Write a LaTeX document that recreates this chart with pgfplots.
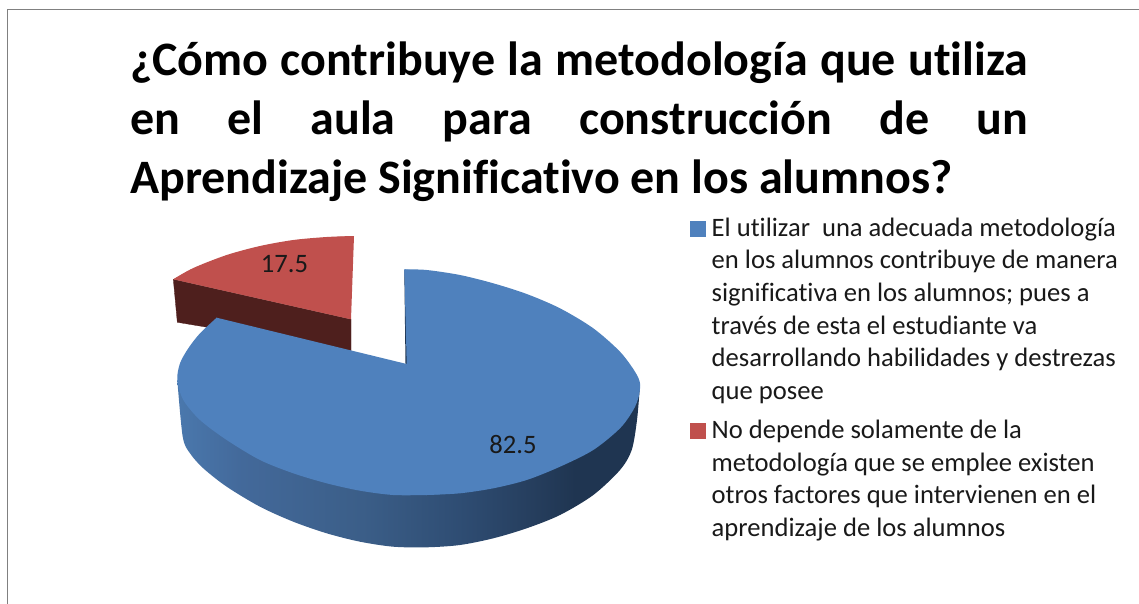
\documentclass[border=0pt]{standalone}
\usepackage{fontspec}
\setmainfont{Carlito}[Ligatures=NoCommon]
\usepackage{pgfplots}
\pgfplotsset{compat=1.18}
\definecolor{pieblue}{HTML}{4F81BD}
\definecolor{piered}{HTML}{C0504D}
\definecolor{darkred}{HTML}{4E1F1D}
\definecolor{darkblue}{HTML}{1F3551}
\definecolor{frame}{HTML}{808080}
\definecolor{bsa}{HTML}{4A7AB0}
\definecolor{bsb}{HTML}{4A78AD}
\definecolor{bsc}{HTML}{43699A}
\definecolor{bsd}{HTML}{3B5E88}
\definecolor{bse}{HTML}{2E4C72}
\definecolor{bsf}{HTML}{253D5C}
\pgfdeclarehorizontalshading{blueside}{100bp}{
 color(0bp)=(bsa);
 color(25bp)=(bsb);
 color(32bp)=(bsc);
 color(45bp)=(bsd);
 color(56bp)=(bse);
 color(64bp)=(bsf);
 color(68bp)=(darkblue);
 color(75bp)=(darkblue);
 color(100bp)=(darkblue)}
\newcommand{\tl}[3]{\node[anchor=base west,inner sep=0pt,font=\fontsize{26.6}{30}\selectfont,text=black!90] at (axis cs:#1,#2) {#3};}
\begin{document}
\begin{tikzpicture}
\useasboundingbox (0,0) rectangle (1139pt,604pt);
\begin{axis}[
  anchor=south west, at={(0,0)},
  scale only axis, width=1139pt, height=604pt,
  xmin=0, xmax=1139, ymin=0, ymax=604, y dir=reverse,
  hide axis, clip=true]
% frame
\addplot[frame, line width=1.9pt, forget plot] coordinates {(7.5,604) (7.5,9.5) (1139,9.5)};
% red slice side and top
\addplot[fill=darkred, draw=darkred, line width=0.3pt, forget plot] coordinates {(173.3,279.3) (351,319.3) (351,351) (177.3,322.3)} --cycle;
\addplot[fill=piered, draw=none, smooth, tension=0.5, forget plot] coordinates {(354,236) (326.7,237) (293.3,240) (260,246) (226.7,255) (193.3,268) (173.3,279.3)};
\addplot[fill=piered, draw=none, forget plot] coordinates {(354,236) (351,319.3) (173.3,279.3) (193.5,268.5) (226.8,255.5) (260,246.5) (293.3,240.5) (326.7,237.5)} --cycle;
% blue side
\addplot[shading=blueside, draw=none, smooth, tension=0.5, forget plot] coordinates {(640,385) (637,420) (631.7,450) (620,470) (593.3,495) (560,515) (526.7,528.3) (493.3,538.3) (460,545) (426.7,547.3) (393.3,546.7) (360,541.7) (326.7,533.3) (293.3,521.7) (260,506.7) (226.7,486.7) (203.3,468.3) (190,453.3) (182.7,436.7) (177.3,380)};
% inner wall
\addplot[fill=darkblue, draw=none, forget plot] coordinates {(404.3,270) (405,270) (407.5,364) (405.5,364)} --cycle;
% blue top
\addplot[fill=pieblue, draw=none, smooth, tension=0.5, forget plot] coordinates {(404.3,269.3) (426.7,270) (460,275) (493.3,283.3) (526.7,294) (560,308.3) (593.3,328.3) (620,351.7) (635,371.7) (640,383.3) (638.7,396.7) (633.3,410) (620,428.3) (593.3,450) (560,466.7) (526.7,480) (493.3,488.3) (460,493.3) (426.7,495)};
\addplot[fill=pieblue, draw=none, smooth, tension=0.5, forget plot] coordinates {(426.7,495) (393.3,495) (360,490.7) (326.7,483.3) (293.3,473.3) (260,460) (226.7,440) (200,420) (183.3,400) (177.3,380) (180,363.3) (188.3,348.3) (200,333.3) (216.7,317.7)};
\addplot[fill=pieblue, draw=none, forget plot] coordinates {(404.3,269.3) (460,276) (560,309.5) (619,352.5) (638,384) (619,428) (560,465.5) (460,492.8) (426.7,495) (393.3,494.7) (293.5,472.8) (227,439.5) (184,399.5) (178.3,380) (189,349) (216.7,317.7) (406.7,364)} --cycle;
% data labels
\addplot[draw=none, mark=none, point meta=explicit symbolic, nodes near coords, nodes near coords align={center},
  every node near coord/.style={font=\fontsize{26.6}{30}\selectfont, text=black!90, inner sep=0pt, anchor=center}, forget plot]
  coordinates {(284.5,264)[17.5] (513,445)[82.5]};
% legend keys
\addplot[only marks, mark=square*, mark size=7.5pt, mark options={fill=pieblue, draw=pieblue, line width=0pt}, forget plot] coordinates {(697.5,228.5)};
\addplot[only marks, mark=square*, mark size=7.5pt, mark options={fill=piered, draw=piered, line width=0pt}, forget plot] coordinates {(697.5,430.5)};
% legend text
\tl{711.5}{236.2}{El utilizar\ \ una adecuada metodología}
\tl{711.5}{268.8}{en los alumnos contribuye de manera}
\tl{711.5}{301.5}{significativa en los alumnos; pues a}
\tl{711.5}{334.2}{través de esta el estudiante va}
\tl{711.5}{366.8}{desarrollando habilidades y destrezas}
\tl{711.5}{399.5}{que posee}
\tl{711.5}{438}{No depende solamente de la}
\tl{711.5}{471}{metodología que se emplee existen}
\tl{711.5}{503.8}{otros factores que intervienen en el}
\tl{711.5}{536.5}{aprendizaje de los alumnos}
% title
\node[anchor=base west,inner sep=0pt,font=\fontsize{48}{54}\selectfont\bfseries] at (axis cs:130,76) {\hbox to 898pt{¿Cómo\hfill contribuye\hfill la\hfill metodología\hfill que\hfill utiliza}};
\node[anchor=base west,inner sep=0pt,font=\fontsize{48}{54}\selectfont\bfseries] at (axis cs:130,134.5) {\hbox to 898pt{en\hfill el\hfill aula\hfill para\hfill construcción\hfill de\hfill un}};
\node[anchor=base west,inner sep=0pt,font=\fontsize{48}{54}\selectfont\bfseries] at (axis cs:130,193.5) {Aprendizaje Significativo en los alumnos?};
\end{axis}
\end{tikzpicture}
\end{document}
